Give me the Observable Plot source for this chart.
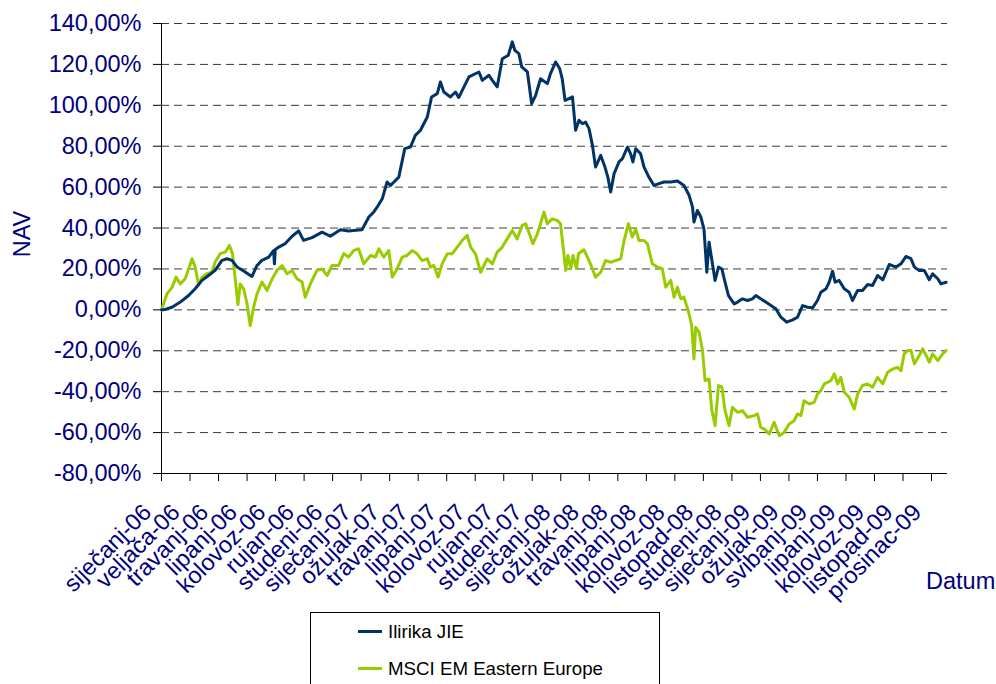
<!DOCTYPE html>
<html><head><meta charset="utf-8">
<script src="https://cdn.jsdelivr.net/npm/d3@7"></script>
<script src="https://cdn.jsdelivr.net/npm/@observablehq/plot@0.6"></script>
<style>
body{margin:0;background:#fff;font-family:Arial,"Liberation Sans",sans-serif;}
#wrap{position:relative;width:996px;height:684px;overflow:hidden;background:#fff;}
#wrap svg{position:absolute;left:0;top:0;}
.lab{position:absolute;color:#000080;font-size:23.5px;line-height:1;white-space:nowrap;}
#nav{left:22.5px;top:233.5px;transform:translate(-50%,-50%) rotate(-90deg);}
#datum{left:926px;top:570px;}
#legend{position:absolute;left:310px;top:612px;width:350px;height:90px;border:1px solid #000;background:#fff;box-sizing:border-box;}
.item{position:absolute;left:47px;font-size:18.7px;line-height:1;color:#000;white-space:nowrap;}
.item span.sw{display:inline-block;width:24px;height:3px;vertical-align:middle;margin-right:6px;position:relative;top:-2px;}
</style></head><body>
<div id="wrap"></div>
<script>
const tickLabels = ["siječanj-06","veljača-06","travanj-06","lipanj-06","kolovoz-06","rujan-06","studeni-06",
  "siječanj-07","ožujak-07","travanj-07","lipanj-07","kolovoz-07","rujan-07","studeni-07",
  "siječanj-08","ožujak-08","travanj-08","lipanj-08","kolovoz-08","listopad-08","studeni-08",
  "siječanj-09","ožujak-09","svibanj-09","lipanj-09","kolovoz-09","listopad-09","prosinac-09"];
const yTicks = [-80,-60,-40,-20,0,20,40,60,80,100,120,140];
const seriesNames = ["Ilirika JIE","MSCI EM Eastern Europe"];
const seriesColors = ["#003366","#99cc00"];

// [position on the category axis (tick-label index), value in %]
const ilirika = [[0,0],[0.07,0],[0.37,1.3],[0.66,3.8],[0.95,7],[1.18,10.3],[1.42,14.4],[1.65,16.8],[1.88,19.3],[2.12,24.2],[2.30,25],[2.47,24.2],[2.65,21],[2.88,19],[3.17,16.3],[3.35,21.7],[3.52,24.2],[3.76,25.8],[3.93,29],[3.96,22.5],[3.99,29.5],[4.11,30.7],[4.34,32.4],[4.58,36],[4.81,38.6],[4.98,34],[5.28,35.3],[5.63,38],[5.92,36],[6.27,39.2],[6.56,38.6],[6.91,39],[7.03,39.2],[7.27,45.4],[7.44,47.8],[7.56,50.2],[7.74,54.3],[7.91,62.5],[8.03,60.8],[8.32,64.9],[8.53,78.8],[8.73,79.6],[8.90,85.3],[9.08,87.8],[9.32,94.3],[9.47,104.1],[9.67,105.7],[9.78,111.4],[9.90,106.5],[10.13,104.1],[10.31,106.5],[10.42,103.8],[10.78,113.9],[11.13,116.3],[11.25,112.2],[11.48,114.7],[11.60,112.2],[11.77,109],[11.95,122.8],[12.16,124.5],[12.30,131],[12.39,126.9],[12.53,125.3],[12.63,118.8],[12.83,116.3],[12.98,100.8],[13.12,104.9],[13.29,113],[13.53,110.6],[13.64,115.5],[13.82,121.2],[13.96,118],[14.05,113],[14.15,102.4],[14.29,103.3],[14.41,104.1],[14.52,87.8],[14.64,92.7],[14.76,91],[14.87,91.8],[14.99,88.6],[15.11,80.4],[15.22,69.8],[15.40,75.5],[15.55,69.8],[15.65,64.9],[15.75,57.6],[15.87,66.6],[16.04,72.3],[16.16,73.9],[16.34,79.6],[16.45,76.3],[16.53,72.3],[16.63,78.8],[16.80,76.3],[16.92,69.8],[17.09,64.9],[17.27,60.8],[17.44,61.7],[17.62,62.5],[17.86,62.5],[18.09,63],[18.32,60.8],[18.50,56],[18.62,50.2],[18.67,42.9],[18.79,48.6],[18.91,45.4],[19.02,39.6],[19.08,27.4],[19.12,18.4],[19.20,33.1],[19.29,25],[19.41,14.4],[19.53,20.9],[19.65,20],[19.73,15.2],[19.88,7],[20.08,2.9],[20.20,3.8],[20.37,5.4],[20.55,4.6],[20.72,5.4],[20.84,7],[21.01,5.4],[21.19,3.8],[21.37,2.1],[21.54,0.5],[21.72,-3.6],[21.92,-6],[22.13,-4.9],[22.30,-3.6],[22.48,2.1],[22.65,1.3],[22.83,1],[23.00,4.6],[23.12,8.6],[23.30,10.3],[23.41,13.5],[23.53,18.9],[23.62,13.5],[23.76,14.4],[23.94,10.3],[24.11,8.6],[24.23,4.6],[24.41,9.5],[24.58,9.5],[24.76,12.4],[24.93,11.9],[25.11,16.8],[25.29,14.7],[25.52,22.2],[25.75,20.9],[25.93,22.5],[26.10,26.1],[26.28,25],[26.40,20.9],[26.57,19.2],[26.75,19.2],[26.92,14.7],[27.04,17.6],[27.22,15.2],[27.33,12.7],[27.51,13.5]];

const msci = [[0,0],[0.19,7.8],[0.37,11],[0.51,16],[0.66,12.7],[0.83,15.2],[0.95,20],[1.07,25],[1.18,21],[1.30,12],[1.42,16],[1.59,17.6],[1.77,18.5],[1.88,23.4],[2.06,27.5],[2.24,28.3],[2.38,31.5],[2.49,27.5],[2.59,14.4],[2.68,2.6],[2.76,12.7],[2.88,10.3],[3.00,3],[3.11,-7.7],[3.23,1.3],[3.35,7.8],[3.52,13.6],[3.70,9.5],[3.88,15.2],[4.05,19.3],[4.23,21.7],[4.40,17.6],[4.58,19.3],[4.75,15.2],[4.93,13.6],[5.04,6.2],[5.22,12.7],[5.45,19.3],[5.63,20],[5.81,16.8],[5.98,21.7],[6.21,21.7],[6.39,27.5],[6.56,25.8],[6.74,29],[6.91,29.9],[7.09,22.5],[7.33,26.6],[7.50,25.8],[7.62,29.9],[7.79,25.8],[7.97,29],[8.09,16],[8.26,20],[8.44,25.8],[8.61,26.6],[8.79,29],[8.96,27.4],[9.14,24.1],[9.32,25],[9.43,20.9],[9.55,21.7],[9.70,16],[9.84,22.5],[10.02,27.4],[10.19,27.4],[10.37,30.7],[10.54,33.9],[10.72,36.4],[10.84,30.7],[11.01,27.4],[11.19,18.4],[11.42,25],[11.60,22.5],[11.77,28.2],[11.95,30.7],[12.12,34.7],[12.30,38.8],[12.47,34.7],[12.65,41.3],[12.77,42.1],[12.88,38],[13.02,32.3],[13.18,37.2],[13.29,42.1],[13.41,47.8],[13.53,42.1],[13.70,44.5],[13.88,43.7],[13.99,42.1],[14.11,27.4],[14.17,19.3],[14.25,26.6],[14.35,20.1],[14.43,26.6],[14.55,20.1],[14.62,27.4],[14.81,29.4],[14.99,24.1],[15.11,20.1],[15.22,16],[15.40,18.4],[15.57,24.1],[15.75,23.3],[15.92,24.1],[16.10,25],[16.22,33.9],[16.37,42.1],[16.51,35.6],[16.63,39.6],[16.74,33.9],[16.92,33.9],[17.04,32.3],[17.21,22.5],[17.39,20.9],[17.56,20.1],[17.68,11.1],[17.86,14.4],[17.97,6.2],[18.09,11.1],[18.21,5.4],[18.32,6.2],[18.50,-2],[18.59,-7.7],[18.67,-24],[18.73,-8.5],[18.85,-10.9],[18.97,-19.9],[19.06,-34.6],[19.20,-33.8],[19.29,-48.5],[19.41,-56.6],[19.53,-37],[19.65,-37.8],[19.76,-49.3],[19.90,-56.6],[20.02,-47.6],[20.20,-50.1],[20.37,-49.3],[20.55,-52.5],[20.78,-51.7],[20.90,-50.9],[21.01,-57.4],[21.13,-58.2],[21.31,-60.7],[21.48,-55],[21.66,-61.5],[21.83,-59.9],[22.01,-55.8],[22.18,-54.2],[22.30,-50.9],[22.42,-51.7],[22.53,-44.4],[22.71,-46],[22.89,-45.2],[23.00,-41.1],[23.12,-39.5],[23.24,-36.2],[23.36,-35.4],[23.47,-34.6],[23.59,-31.3],[23.71,-36.2],[23.82,-33],[23.94,-40.3],[24.11,-42.7],[24.29,-48.5],[24.41,-41.1],[24.58,-37],[24.76,-36.2],[24.93,-37.8],[25.11,-33],[25.29,-36.2],[25.46,-30.5],[25.64,-28.9],[25.81,-28.1],[25.93,-29.7],[26.04,-21.5],[26.16,-19.9],[26.28,-19.9],[26.40,-26.4],[26.57,-22.3],[26.69,-19.1],[26.81,-22.3],[26.92,-25.6],[27.04,-21.5],[27.22,-24.8],[27.39,-21.5],[27.51,-19.9]];

const fmtPct = d => d.toFixed(2).replace(".", ",") + "%";
const xTickPos = tickLabels.map((_, i) => i);

const chart = Plot.plot({
  width: 996, height: 684,
  marginLeft: 161, marginRight: 49, marginTop: 23, marginBottom: 211,
  style: {fontFamily: 'Arial, "Liberation Sans", sans-serif', fontSize: "23.5px", color: "#000080", background: "transparent"},
  x: {domain: [0, 27.56], axis: null},
  y: {domain: [-80, 140], axis: null},
  marks: [
    Plot.gridY(yTicks.filter(d => d > -80), {stroke: "#3a3a3a", strokeOpacity: 1, strokeDasharray: "8,5"}),
    Plot.axisY(yTicks, {tickSize: 8, tickPadding: 12, tickFormat: fmtPct, stroke: "#000", fill: "#000080", label: null}),
    Plot.axisX(xTickPos, {tickSize: 8, tickFormat: () => "", stroke: "#000", label: null}),
    Plot.axisX(xTickPos, {tickSize: 0, tickPadding: 35, dx: -14, tickRotate: -45, tickFormat: i => tickLabels[i], fill: "#000080", label: null}),
    Plot.ruleX([0], {stroke: "#000"}),
    Plot.ruleY([-80], {stroke: "#000"}),
    Plot.line(msci, {x: d => d[0], y: d => d[1], stroke: seriesColors[1], strokeWidth: 3}),
    Plot.line(ilirika, {x: d => d[0], y: d => d[1], stroke: seriesColors[0], strokeWidth: 3})
  ]
});

const wrap = document.getElementById("wrap");
wrap.appendChild(chart);
const nav = document.createElement("div"); nav.className = "lab"; nav.id = "nav"; nav.textContent = "NAV"; wrap.appendChild(nav);
const datum = document.createElement("div"); datum.className = "lab"; datum.id = "datum"; datum.textContent = "Datum"; wrap.appendChild(datum);
const legend = document.createElement("div"); legend.id = "legend";
seriesNames.forEach((name, i) => {
  const it = document.createElement("div"); it.className = "item";
  it.style.top = (i === 0 ? 10 : 47) + "px";
  const sw = document.createElement("span"); sw.className = "sw"; sw.style.background = seriesColors[i];
  it.appendChild(sw); it.appendChild(document.createTextNode(name));
  legend.appendChild(it);
});
wrap.appendChild(legend);
</script>
</body></html>
